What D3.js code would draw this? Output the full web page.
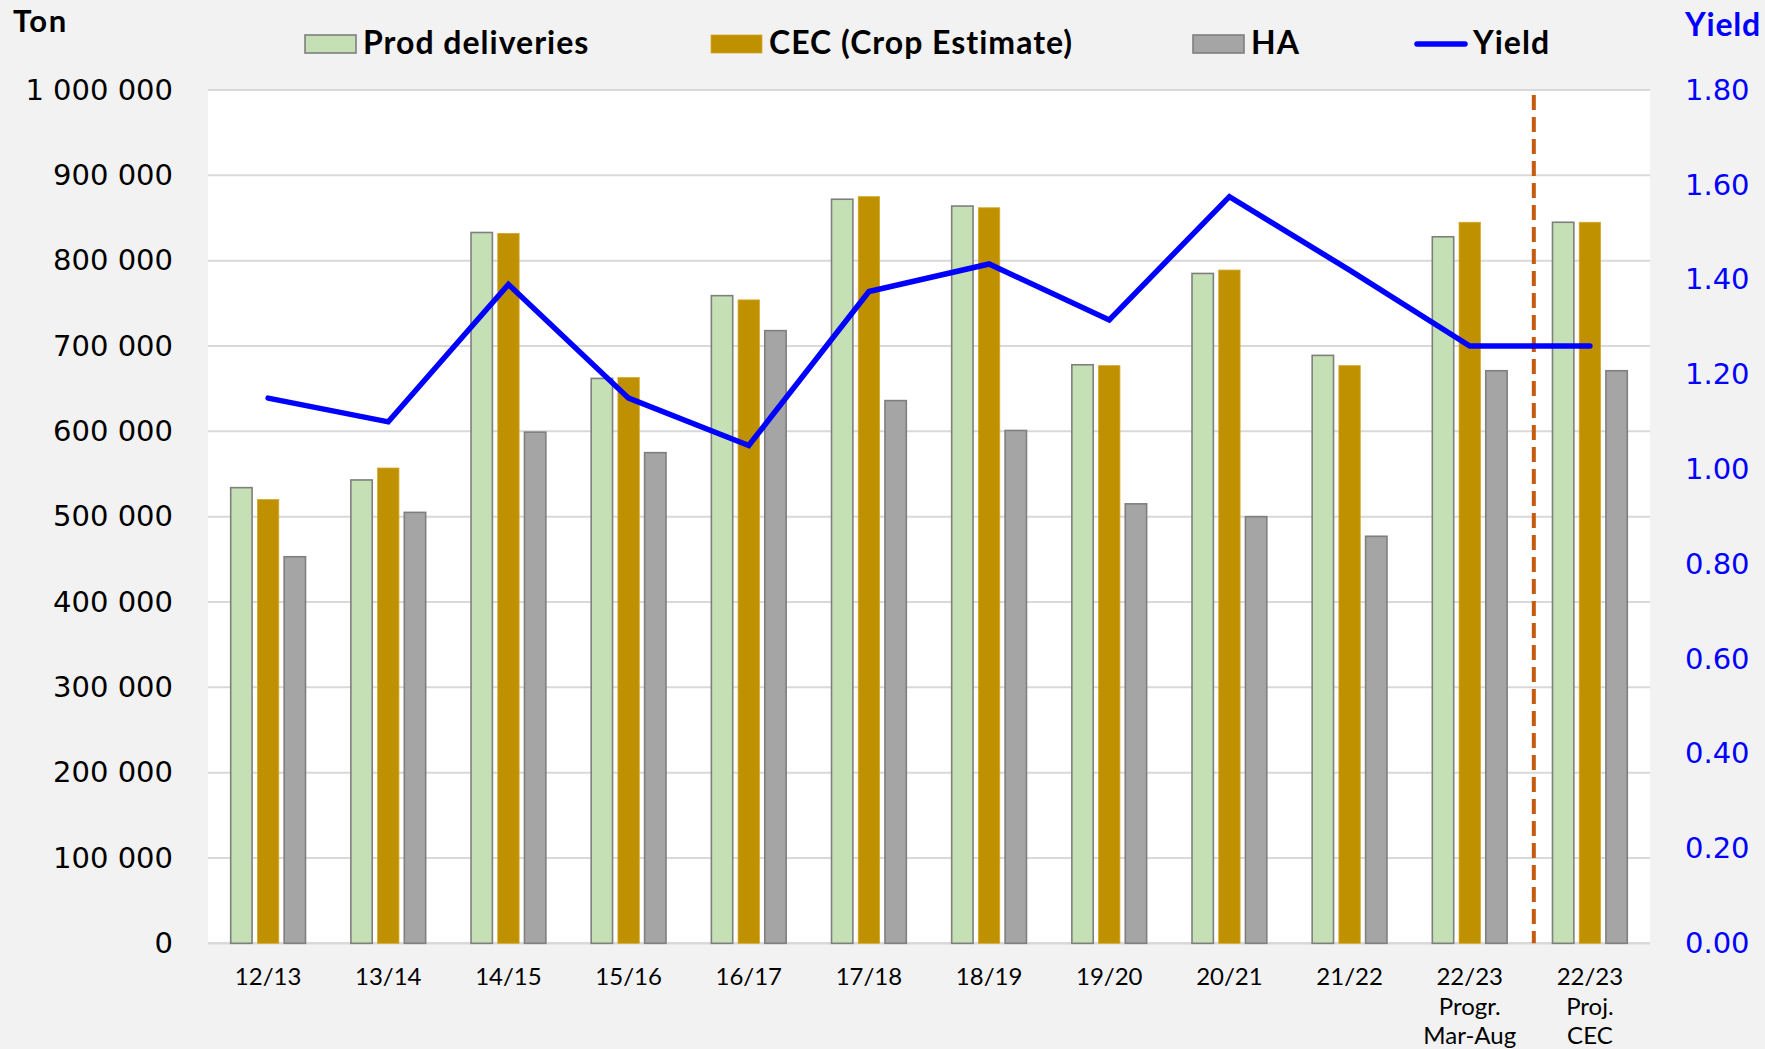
<!DOCTYPE html>
<html>
<head>
<meta charset="utf-8">
<script src="https://cdn.jsdelivr.net/npm/d3@7"></script>
<style>
  html, body { margin: 0; padding: 0; background: #f2f2f2; }
  svg { display: block; }
</style>
</head>
<body>
<svg id="chart" width="1765" height="1049"></svg>
<script>
// ---- data ----
const categories = ["12/13","13/14","14/15","15/16","16/17","17/18","18/19","19/20","20/21","21/22","22/23\nProgr.\nMar-Aug","22/23\nProj.\nCEC"];
const prodDeliveries = [534000, 543000, 833000, 662000, 759000, 872000, 864000, 678000, 785000, 689000, 828000, 845000];
const cecEstimate    = [520000, 557000, 832000, 663000, 754000, 875000, 862000, 677000, 789000, 677000, 845000, 845000];
const hectares       = [453000, 505000, 599000, 575000, 718000, 636000, 601000, 515000, 500000, 477000, 671000, 671000];
const yieldValues    = [1.15, 1.10, 1.39, 1.15, 1.05, 1.375, 1.433, 1.315, 1.575, 1.42, 1.26, 1.26];
const leftTicks  = [0,100000,200000,300000,400000,500000,600000,700000,800000,900000,1000000];
const rightTicks = [0,0.2,0.4,0.6,0.8,1.0,1.2,1.4,1.6,1.8];
const seriesNames = ["Prod deliveries","CEC (Crop Estimate)","HA","Yield"];

const svg = d3.select("#chart");
const W = 1765, H = 1049;
const plot = {left: 208, right: 1650, top: 90, bottom: 943.3};

svg.append("rect").attr("width", W).attr("height", H).attr("fill", "#f2f2f2");
svg.append("rect").attr("x", plot.left).attr("y", plot.top)
   .attr("width", plot.right - plot.left).attr("height", plot.bottom - plot.top).attr("fill", "#ffffff");

const x0 = d3.scaleBand().domain(categories).range([plot.left, plot.right])
  .paddingInner(0.333).paddingOuter(0.1667);
const keys = ["prod","cec","ha"];
const x1 = d3.scaleBand().domain(keys).range([0, x0.bandwidth()]).paddingInner(0.2).paddingOuter(0.1);
const yL = d3.scaleLinear().domain([0, 1000000]).range([plot.bottom, plot.top]);
const yR = d3.scaleLinear().domain([0, 1.8]).range([plot.bottom, plot.top]);

const loc = d3.formatLocale({decimal: ".", thousands: " ", grouping: [3], currency: ["", ""]});
const fmtL = loc.format(",d");
const fmtR = d3.format(".2f");

// gridlines
svg.append("g").selectAll("line").data(leftTicks).join("line")
  .attr("x1", plot.left).attr("x2", plot.right)
  .attr("y1", d => yL(d)).attr("y2", d => yL(d))
  .attr("stroke", "#d9d9d9").attr("stroke-width", d => d === 0 ? 2.5 : 2);

// left axis
const axL = svg.append("g").attr("transform", `translate(${plot.left - 35},0)`)
  .call(d3.axisLeft(yL).tickValues(leftTicks).tickFormat(fmtL).tickSize(0).tickPadding(0));
axL.select(".domain").remove();
axL.selectAll("text").attr("font-family", "DejaVu Sans").attr("font-size", 29).attr("fill", "#000");

// right axis
const axR = svg.append("g").attr("transform", `translate(1685,0)`)
  .call(d3.axisRight(yR).tickValues(rightTicks).tickFormat(fmtR).tickSize(0).tickPadding(0));
axR.select(".domain").remove();
axR.selectAll("text").attr("font-family", "DejaVu Sans").attr("font-size", 29).attr("fill", "#0000ff");

// bars
const rows = categories.map((c, i) => ({cat: c, prod: prodDeliveries[i], cec: cecEstimate[i], ha: hectares[i]}));
const style = {
  prod: {fill: "#c5e0b4", stroke: "#7f7f7f", sw: 1.6},
  cec:  {fill: "#bf9000", stroke: "#d4a82a", sw: 0.8},
  ha:   {fill: "#a5a5a5", stroke: "#7f7f7f", sw: 1.6}
};
const groups = svg.append("g").selectAll("g").data(rows).join("g")
  .attr("transform", d => `translate(${x0(d.cat)},0)`);
groups.selectAll("rect").data(d => keys.map(k => ({k, v: d[k]}))).join("rect")
  .attr("x", d => x1(d.k)).attr("width", x1.bandwidth())
  .attr("y", d => yL(d.v)).attr("height", d => yL(0) - yL(d.v))
  .attr("fill", d => style[d.k].fill).attr("stroke", d => style[d.k].stroke)
  .attr("stroke-width", d => style[d.k].sw);

// dashed separator
const sepX = (x0(categories[10]) + x0.bandwidth() + x0(categories[11])) / 2 + 4;
svg.append("line").attr("x1", sepX).attr("x2", sepX).attr("y1", 95).attr("y2", plot.bottom)
  .attr("stroke", "#c55a11").attr("stroke-width", 4).attr("stroke-dasharray", "15,7");

// yield line
const line = d3.line().x((d, i) => x0(categories[i]) + x0.bandwidth() / 2).y(d => yR(d));
svg.append("path").datum(yieldValues).attr("d", line)
  .attr("fill", "none").attr("stroke", "#0000ff").attr("stroke-width", 5.5)
  .attr("stroke-linejoin", "miter").attr("stroke-linecap", "round");

// category labels
const catG = svg.append("g").selectAll("text").data(categories).join("text")
  .attr("x", d => x0(d) + x0.bandwidth() / 2).attr("y", 985)
  .attr("text-anchor", "middle").attr("font-family", "Lato, 'Open Sans', sans-serif")
  .attr("font-size", 24).attr("fill", "#000");
catG.selectAll("tspan").data(d => d.split("\n")).join("tspan")
  .attr("x", function() { return this.parentNode.getAttribute("x"); })
  .attr("dy", (d, i) => i === 0 ? 0 : 29.5).text(d => d);

// axis titles
svg.append("text").attr("x", 13).attr("y", 32).text("Ton")
  .attr("font-family", "Lato, sans-serif").attr("font-weight", "bold").attr("font-size", 31)
  .attr("letter-spacing", 1.5).attr("fill", "#000");
svg.append("text").attr("x", 1685).attr("y", 36).text("Yield")
  .attr("font-family", "Lato, sans-serif").attr("font-weight", "bold").attr("font-size", 32)
  .attr("letter-spacing", 0.8).attr("fill", "#0000ff");

// legend
const leg = svg.append("g");
const legItems = [
  {name: seriesNames[0], x: 305, type: "rect", s: style.prod},
  {name: seriesNames[1], x: 711, type: "rect", s: style.cec},
  {name: seriesNames[2], x: 1193, type: "rect", s: style.ha},
  {name: seriesNames[3], x: 1415, type: "line"}
];
legItems.forEach(it => {
  if (it.type === "rect") {
    leg.append("rect").attr("x", it.x).attr("y", 35).attr("width", 51).attr("height", 18)
      .attr("fill", it.s.fill).attr("stroke", it.s.stroke).attr("stroke-width", it.s.sw);
  } else {
    leg.append("line").attr("x1", it.x + 2).attr("x2", it.x + 50).attr("y1", 44).attr("y2", 44)
      .attr("stroke", "#0000ff").attr("stroke-width", 5.5).attr("stroke-linecap", "round");
  }
  leg.append("text").attr("x", it.x + 58).attr("y", 54).text(it.name)
    .attr("font-family", "Lato, sans-serif").attr("font-weight", "bold").attr("font-size", 32)
    .attr("letter-spacing", 1).attr("fill", "#000");
});
</script>
</body>
</html>
